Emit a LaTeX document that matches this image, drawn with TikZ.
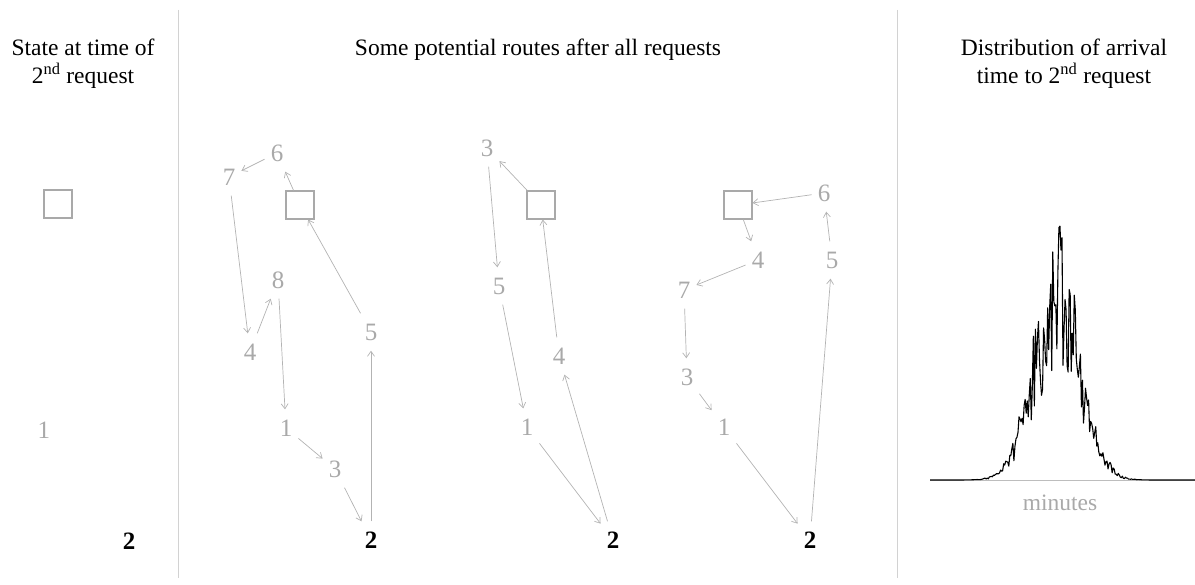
\documentclass[tikz,border=0pt]{standalone}
\usepackage{fontspec}
\setmainfont{Liberation Serif}
\usetikzlibrary{arrows.meta}
\definecolor{stopgray}{HTML}{A9A9A9}
\definecolor{leggray}{HTML}{B3B3B3}
\definecolor{rulegray}{HTML}{D2D2D2}
\definecolor{axisgray}{HTML}{BDBDBD}
\newcommand\numfont{\rmfamily\fontsize{25}{30}\selectfont}
\newcommand\headfont{\rmfamily\fontsize{23.5}{27.5}\selectfont}
\tikzset{
  stopnum/.style={text=stopgray, font=\numfont, inner xsep=6pt, inner ysep=10pt,
    text height=17pt, text depth=0pt},
  newreq/.style={stopnum, text=black, font=\numfont\bfseries},
  depot/.style={draw=stopgray, line width=1.2pt, minimum size=28pt, inner sep=0pt},
  leg/.style={draw=leggray, line width=0.7pt, -{Straight Barb[length=5pt, width=7pt]}},
  divider/.style={draw=rulegray, line width=1pt},
  heading/.style={font=\headfont, align=center, anchor=north, inner sep=0pt}
}

\begin{document}
\begin{tikzpicture}[x=1pt, y=-1pt]

% Canvas
\useasboundingbox (0,0) rectangle (1195,585);

% Panel dividers
\draw[divider] (178,10) -- (178,578);
\draw[divider] (897,10) -- (897,578);

% Headings
\node[heading] (ttlstate) at (83,39) {State at time of\\2\textsuperscript{nd} request};
\node[heading] (ttlroutes) at (538,39) {Some potential routes after all requests};
\node[heading] (ttldist) at (1064,39) {Distribution of arrival\\time to 2\textsuperscript{nd} request};

% State at time of 2nd request
\node[depot] (s0) at (58,204) {};
\node[stopnum] (s1) at (44,430) {1};
\node[newreq] (s2) at (129,541) {2};

% Route A
\node[depot] (a0) at (300,205) {};
\node[stopnum] (a6) at (277,153) {6};
\node[stopnum] (a7) at (229,177) {7};
\node[stopnum] (a8) at (278,280) {8};
\node[stopnum] (a4) at (250,352) {4};
\node[stopnum] (a5) at (371,332) {5};
\node[stopnum] (a1) at (286,428) {1};
\node[stopnum] (a3) at (335,469) {3};
\node[newreq] (a2) at (371,540) {2};
\foreach \p/\q in {a0/a6, a6/a7, a7/a4, a4/a8, a8/a1, a1/a3, a3/a2, a2/a5, a5/a0}
  \draw[leg] (\p) -- (\q);

% Route B
\node[depot] (b0) at (541,205) {};
\node[stopnum] (b3) at (487,148) {3};
\node[stopnum] (b5) at (499,286) {5};
\node[stopnum] (b4) at (559,356) {4};
\node[stopnum] (b1) at (527,427) {1};
\node[newreq] (b2) at (613,540) {2};
\foreach \p/\q in {b0/b3, b3/b5, b5/b1, b1/b2, b2/b4, b4/b0}
  \draw[leg] (\p) -- (\q);

% Route C
\node[depot] (c0) at (738,205) {};
\node[stopnum] (c6) at (824,193) {6};
\node[stopnum] (c4) at (758,260) {4};
\node[stopnum] (c5) at (832,260) {5};
\node[stopnum] (c7) at (684,290) {7};
\node[stopnum] (c3) at (687,377) {3};
\node[stopnum] (c1) at (724,427) {1};
\node[newreq] (c2) at (810,540) {2};
\foreach \p/\q in {c0/c4, c4/c7, c7/c3, c3/c1, c1/c2, c2/c5, c5/c6, c6/c0}
  \draw[leg] (\p) -- (\q);

% Arrival time histogram
\draw[axisgray, line width=1pt] (930,480) -- (1195,480);
\pgfmathsetseed{90210}
\draw[black, line width=1.1pt, line join=round]
  plot[samples=260, domain=930:1195, variable=\t]
  (\t, {480 - 252*exp(-0.5*((\t-1057)/23)^2)*(0.72+0.3*rand)});
\node[text=stopgray, font=\headfont] (xlabel) at (1060,503) {minutes};

\end{tikzpicture}
\end{document}
